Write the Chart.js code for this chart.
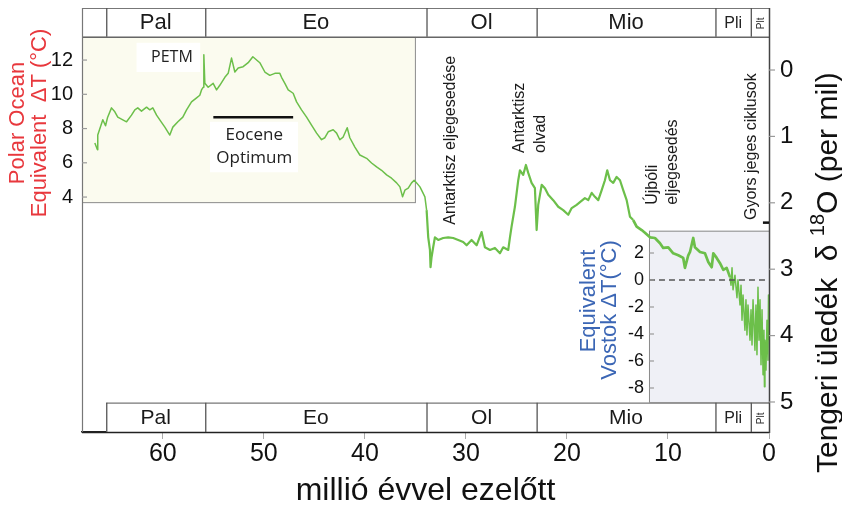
<!DOCTYPE html>
<html><head><meta charset="utf-8">
<script src="https://cdn.jsdelivr.net/npm/chart.js@4.4.1/dist/chart.umd.min.js"></script>
<style>html,body{margin:0;padding:0;background:#fff;}canvas{display:block;}</style>
</head><body>
<canvas id="c" width="842" height="510"></canvas>
<script>
// ---- data ----
const ages = [66.73,66.47,66.44,65.94,65.67,65.48,65.08,64.75,64.46,63.96,
63.59,63.10,62.77,62.48,62.11,61.61,61.29,60.99,60.62,60.30,
59.80,59.31,59.01,58.51,58.02,57.65,57.16,56.66,56.34,56.17,
56.01,55.94,55.84,55.51,55.02,54.68,54.36,53.86,53.53,53.20,
52.87,52.54,52.05,51.55,51.09,50.40,49.90,49.41,48.91,48.42,
48.25,47.92,47.59,47.10,46.76,46.27,45.77,45.28,44.78,44.29,
43.96,43.63,43.14,42.80,42.48,42.15,41.75,41.49,40.99,40.50,
39.83,39.34,38.84,38.35,37.85,37.36,36.86,36.53,36.27,36.04,
35.71,35.38,35.12,34.88,34.55,34.29,34.06,33.89,33.73,33.56,
33.50,33.40,33.24,33.07,32.74,32.25,31.75,31.26,30.76,30.27,
29.93,29.44,28.94,28.45,28.12,27.62,27.13,26.63,26.31,25.81,
25.64,25.48,25.15,24.82,24.65,24.33,24.06,23.83,23.50,23.17,
23.00,22.84,22.50,22.18,21.85,21.36,20.86,20.37,19.87,19.53,
19.04,18.71,18.22,17.89,17.55,17.23,16.90,16.56,16.24,16.01,
15.74,15.42,15.08,14.75,14.43,14.09,13.76,13.44,13.10,12.60,
12.28,11.78,11.29,10.79,10.47,9.97,9.48,8.98,8.49,8.32,
7.99,7.82,7.50,7.33,6.83,6.34,6.01,5.67,5.51,5.18,
4.85,4.52,4.19,3.86,
3.76,3.66,3.56,3.37,3.17,3.07,2.87,2.77,2.67,2.57,
2.38,2.28,2.18,2.08,1.88,1.78,1.68,1.58,1.39,1.29,
1.19,1.09,0.99,0.89,0.79,0.69,0.59,0.50,0.45,0.40,
0.30,0.20,0.10,0.05,0.00];
const d18O = [1.10,1.20,0.98,0.75,0.84,0.72,0.57,0.63,0.71,0.75,
0.78,0.68,0.60,0.57,0.62,0.56,0.60,0.57,0.68,0.75,
0.86,0.98,0.86,0.78,0.71,0.60,0.48,0.42,0.38,0.30,
0.26,-0.23,0.20,0.26,0.20,0.30,0.23,0.11,0.05,-0.18,
0.03,-0.03,-0.05,-0.11,-0.20,-0.11,0.03,0.08,0.05,0.05,
0.11,0.20,0.30,0.35,0.48,0.60,0.71,0.83,0.95,1.05,
1.02,0.93,0.90,0.95,1.05,1.01,0.87,1.02,1.16,1.28,
1.33,1.40,1.46,1.51,1.58,1.63,1.70,1.76,1.91,1.81,
1.78,1.70,1.66,1.70,1.76,1.84,1.91,2.11,2.52,2.71,
2.97,2.82,2.67,2.52,2.56,2.53,2.52,2.53,2.56,2.59,
2.64,2.56,2.64,2.44,2.67,2.71,2.68,2.76,2.67,2.71,
2.52,2.36,2.06,1.66,1.51,1.58,1.43,1.55,1.70,1.78,
2.41,2.03,1.73,1.78,1.88,1.96,2.06,2.11,2.18,2.08,
2.03,1.99,1.93,1.96,1.85,1.91,1.96,1.81,1.66,1.51,
1.66,1.70,1.61,1.66,1.81,1.96,2.21,2.26,2.36,2.41,
2.45,2.52,2.53,2.61,2.68,2.67,2.76,2.79,2.83,2.98,
2.79,2.74,2.53,2.67,2.74,2.76,2.89,2.97,2.76,2.83,
2.91,3.01,2.98,3.12,
3.24,2.98,3.31,3.09,3.43,3.16,3.54,3.24,3.77,3.39,
3.92,3.46,3.99,3.54,4.07,3.61,4.14,3.46,4.22,3.54,
4.29,3.27,4.07,3.46,4.44,3.61,4.59,3.92,4.77,4.07,
4.52,3.77,4.37,3.39,4.07];

const xTicks = [0,10,20,30,40,50,60];
const d18OTicks = [0,1,2,3,4,5];
const polarTicks = [4,6,8,10,12];
const vostokTicks = [2,0,-2,-4,-6,-8];
const periodNames = ['Pal','Eo','Ol','Mio','Pli','Plt'];
const periodBounds = [65.6,55.8,33.9,23.0,5.3,1.8,0];

const SANS = '"Liberation Sans", Arial, sans-serif';
const HUM = '"Open Sans", sans-serif';

function rtext(ctx, s, x, y, font, color, align) {
  ctx.save(); ctx.translate(x, y); ctx.rotate(-Math.PI / 2);
  ctx.font = font; ctx.fillStyle = color; ctx.textAlign = align || 'left'; ctx.textBaseline = 'alphabetic';
  ctx.fillText(s, 0, 0); ctx.restore();
}
function seg(ctx, x1, y1, x2, y2, color, w, dash) {
  ctx.save(); ctx.beginPath(); ctx.strokeStyle = color; ctx.lineWidth = w || 1;
  if (dash) ctx.setLineDash(dash);
  ctx.moveTo(x1, y1); ctx.lineTo(x2, y2); ctx.stroke(); ctx.restore();
}
function text(ctx, s, x, y, font, color, align, base) {
  ctx.save(); ctx.font = font; ctx.fillStyle = color; ctx.textAlign = align || 'center';
  ctx.textBaseline = base || 'middle'; ctx.fillText(s, x, y); ctx.restore();
}

const decor = {
  id: 'decor',
  beforeDatasetsDraw(c) {
    const ctx = c.ctx, X = c.scales.x, Y = c.scales.y;
    const px = v => X.getPixelForValue(v), py = v => Y.getPixelForValue(v);
    let l = px(68), r = px(35.05), t = py(-0.5), b = py(1.99);
    ctx.fillStyle = '#fbfbef'; ctx.fillRect(l, t, r - l, b - t);
    ctx.strokeStyle = '#8a8a8a'; ctx.lineWidth = 1; ctx.strokeRect(l + 0.5, t + 0.5, r - l, b - t);
    l = px(11.88); r = px(0); t = py(2.42); b = py(5);
    ctx.fillStyle = '#eff0f6'; ctx.fillRect(l, t, r - l, b - t);
    ctx.strokeStyle = '#8a8a8a'; ctx.strokeRect(l + 0.5, t + 0.5, r - l, b - t);
    ctx.fillStyle = '#ffffff';
    ctx.fillRect(px(62.6), py(-0.41), px(56.3) - px(62.6), py(0.03) - py(-0.41));
    ctx.fillRect(px(55.33), py(0.78), px(46.62) - px(55.33), py(1.54) - py(0.78));
    seg(ctx, px(55.0), py(0.71), px(47.1), py(0.71), '#111', 2.5);
  },
  afterDatasetsDraw(c) {
    const ctx = c.ctx, X = c.scales.x, Y = c.scales.y, YL = c.scales.yL, YV = c.scales.yV;
    const px = v => X.getPixelForValue(v), py = v => Y.getPixelForValue(v);
    const ca = c.chartArea;
    seg(ctx, px(11.88), YV.getPixelForValue(0), px(0), YV.getPixelForValue(0), '#555', 1.5, [6, 4]);
    const bars = [
      {y0: ca.top, y1: py(-0.5), x0: ca.left, font: 22, small: 16, tiny: 10, bc: '#666'},
      {y0: py(5.01), y1: ca.bottom, x0: px(periodBounds[0]), font: 21, small: 16, tiny: 10, bc: '#222'}
    ];
    bars.forEach(bb => {
      ctx.fillStyle = '#fff';
      ctx.fillRect(px(periodBounds[0]), bb.y0, ca.right - px(periodBounds[0]), bb.y1 - bb.y0);
      seg(ctx, bb.x0, bb.y0 + 0.5, ca.right, bb.y0 + 0.5, '#777', 1.2);
      seg(ctx, ca.left, bb.y1 + 0.5, ca.right, bb.y1 + 0.5, bb.bc, 1.4);
      for (let i = 0; i < periodBounds.length - 1; i++) {
        const xa = px(periodBounds[i]), xb = px(periodBounds[i + 1]);
        seg(ctx, xa + 0.5, bb.y0, xa + 0.5, bb.y1, '#555', 1.3);
        const cx = (xa + xb) / 2, cy = (bb.y0 + bb.y1) / 2 + 1;
        const nm = periodNames[i];
        if (nm === 'Plt') rtext(ctx, nm, cx + 4, cy, bb.tiny + 'px ' + SANS, '#333', 'center');
        else if (nm === 'Pli') text(ctx, nm, cx, cy, bb.small + 'px ' + SANS, '#222');
        else text(ctx, nm, cx, cy, bb.font + 'px ' + SANS, '#1a1a1a');
      }
    });
    seg(ctx, ca.left + 0.5, ca.top, ca.left + 0.5, ca.bottom, '#777', 1.2);
    seg(ctx, ca.right + 0.5, ca.top, ca.right + 0.5, ca.bottom + 1, '#444', 1.5);
    d18OTicks.forEach(v => {
      const y = py(v);
      seg(ctx, ca.right, y, ca.right + 6, y, '#999', 1.2);
      text(ctx, String(v), ca.right + 11, y, '24px ' + SANS, '#111', 'left');
    });
    polarTicks.forEach(v => {
      const y = YL.getPixelForValue(v);
      seg(ctx, ca.left, y, ca.left + 5, y, '#999', 1.2);
      text(ctx, String(v), ca.left - 9, y, '20px ' + SANS, '#111', 'right');
    });
    const vx = px(11.88);
    vostokTicks.forEach(v => {
      const y = YV.getPixelForValue(v);
      seg(ctx, vx, y, vx + 5, y, '#999', 1.2);
      text(ctx, String(v), vx - 5, y, '18px ' + SANS, '#111', 'right');
    });
    ctx.fillStyle = '#111'; ctx.fillRect(px(0.6), py(2.28), px(0) - px(0.6), 2.5);
    const red = '#e8383d', blue = '#3b66b5';
    rtext(ctx, 'Polar Ocean', 24, 123, '22px ' + SANS, red, 'center');
    rtext(ctx, 'Equivalent  ΔT (°C)', 46, 123, '22px ' + SANS, red, 'center');
    rtext(ctx, 'Equivalent', 595, 301, '22px ' + SANS, blue, 'center');
    rtext(ctx, 'Vostok ΔT(°C)', 616, 310, '22px ' + SANS, blue, 'center');
    ctx.save(); ctx.translate(837, 473); ctx.rotate(-Math.PI / 2);
    ctx.fillStyle = '#111'; ctx.textBaseline = 'alphabetic'; ctx.textAlign = 'left';
    let xx = 0;
    ctx.font = '30px ' + SANS; const s1 = 'Tengeri üledék  δ '; ctx.fillText(s1, xx, 0); xx += ctx.measureText(s1).width;
    ctx.font = '20px ' + SANS; ctx.fillText('18', xx, -13); xx += ctx.measureText('18').width;
    ctx.font = '30px ' + SANS; ctx.fillText('O (per mil)', xx, 0);
    ctx.restore();
    text(ctx, 'PETM', px(59.1), py(-0.19), '16px ' + HUM, '#222');
    text(ctx, 'Eocene', px(50.95), py(0.98), '17px ' + HUM, '#222');
    text(ctx, 'Optimum', px(50.95), py(1.33), '17px ' + HUM, '#222');
    const af = '16px ' + SANS, ac = '#1a1a1a';
    rtext(ctx, 'Antarktisz eljegesedése', 455, py(2.33), af, ac);
    rtext(ctx, 'Antarktisz', 524, py(1.25), af, ac);
    rtext(ctx, 'olvad', 545, py(1.25), af, ac);
    rtext(ctx, 'Újbóli', 657, py(2.03), af, ac);
    rtext(ctx, 'eljegesedés', 677, py(2.03), af, ac);
    rtext(ctx, 'Gyors jeges ciklusok', 756, py(2.26), af, ac);
  }
};

const pts = ages.map((a, i) => ({x: a, y: d18O[i]}));

new Chart(document.getElementById('c'), {
  type: 'line',
  data: {datasets: [{data: pts, borderColor: '#6cbf4a', borderWidth: 1.6, pointRadius: 0, tension: 0, fill: false,
    yAxisID: 'y', xAxisID: 'x', borderJoinStyle: 'round',
    segment: {borderWidth: s => { const a = s.p0.parsed.x; return a > 34 ? 1.5 : (a > 13.5 ? 2.2 : (a > 3.9 ? 2.7 : 1.5)); }}}]},
  options: {
    responsive: false, animation: false, devicePixelRatio: 1,
    layout: {padding: {left: 82, right: 73, top: 8, bottom: 3}},
    plugins: {legend: {display: false}, tooltip: {enabled: false}},
    scales: {
      x: {type: 'linear', min: 0, max: 68, reverse: true, position: 'bottom',
        afterBuildTicks: s => { s.ticks = xTicks.map(v => ({value: v})); },
        ticks: {font: {family: SANS, size: 25, lineHeight: 1}, color: '#111', padding: 3, maxRotation: 0, autoSkip: false},
        grid: {drawOnChartArea: false, tickLength: 7, color: '#aaa', tickColor: '#aaa'},
        border: {color: '#222', width: 1.5},
        title: {display: true, text: 'millió évvel ezelőtt', font: {family: SANS, size: 32, lineHeight: 1}, color: '#111', padding: {top: 5, bottom: 0}}
      },
      y: {type: 'linear', min: -0.934, max: 5.452, reverse: true, position: 'right', display: false},
      yL: {type: 'linear', min: -9.72, max: 15.04, position: 'left', display: false},
      yV: {type: 'linear', min: -11.26, max: 20.15, position: 'left', display: false}
    }
  },
  plugins: [decor]
});
</script>
</body></html>
